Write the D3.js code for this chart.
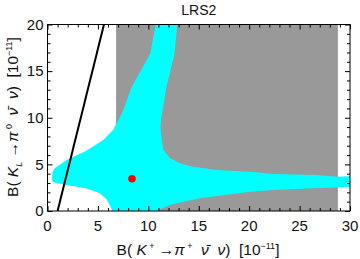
<!DOCTYPE html>
<html><head><meta charset="utf-8">
<script src="https://cdn.jsdelivr.net/npm/d3@7"></script>
<style>body{margin:0;background:#fff} svg{display:block} text{font-family:"Liberation Sans",Arial,sans-serif;fill:#111;white-space:pre}</style>
</head><body>
<svg id="c" width="360" height="259"></svg>
<script>
const xDomain = [0, 30];
const yDomain = [0, 20];
const xMajor = [0, 5, 10, 15, 20, 25, 30];
const yMajor = [0, 5, 10, 15, 20];
const xMinor = d3.range(0, 31, 1);
const yMinor = d3.range(0, 21, 1);
const grayBand = [6.8, 28.8];           // excluded x-range (full height)
const allowedRegion = [
  [10.76, 20.2], [10.2, 16.9], [8.35, 13.3], [7.5, 10.8], [7.2, 10.1], [6.5, 8.68],
  [5.5, 7.6], [3.9, 6.5], [1.9, 5.47], [0.74, 4.58], [0.5, 4.2], [0.45, 3.6],
  [0.5, 3.1], [1.9, 2.8], [3.9, 2.4], [5.2, 1.9], [5.9, 1.2], [6.4, 0.1],
  [6.45, -0.2], [11.0, -0.2], [11.0, 0.1], [12.15, 0.64], [13.5, 1.0], [15.1, 1.36],
  [16.8, 1.6], [20.1, 2.07], [22.4, 2.25], [26.4, 2.43], [29.0, 2.54], [30.3, 2.6],
  [30.3, 3.75], [28.7, 3.68], [26.7, 3.86], [22.4, 3.98], [20.1, 4.21], [16.8, 4.39],
  [14.46, 4.75], [13.14, 5.11], [12.15, 5.65], [11.49, 6.54], [11.33, 7.6], [11.2, 9.0],
  [11.3, 10.1], [11.8, 13.3], [12.6, 16.9], [12.88, 20.2]
];
const boundLine = [[1.0, 0], [5.6, 20]];
const smPoint = [8.38, 3.46];
const title = "LRS2";

const L = 47.5, R = 350, T = 24.5, B = 211;
const svg = d3.select("#c");
const x = d3.scaleLinear().domain(xDomain).range([L, R]);
const y = d3.scaleLinear().domain(yDomain).range([B, T]);

svg.append("defs").append("clipPath").attr("id", "pc")
  .append("rect").attr("x", L).attr("y", T).attr("width", R - L).attr("height", B - T);
const g = svg.append("g").attr("clip-path", "url(#pc)");

g.append("rect").attr("x", x(grayBand[0])).attr("y", y(yDomain[1]))
  .attr("width", x(grayBand[1]) - x(grayBand[0])).attr("height", y(yDomain[0]) - y(yDomain[1]))
  .attr("fill", "#999999");

g.append("path").datum(allowedRegion)
  .attr("d", d3.line().x(d => x(d[0])).y(d => y(d[1])).curve(d3.curveLinearClosed))
  .attr("fill", "#00ffff");

g.append("path").datum(boundLine)
  .attr("d", d3.line().x(d => x(d[0])).y(d => y(d[1])))
  .attr("stroke", "#000").attr("stroke-width", 2).attr("fill", "none");

g.append("circle").attr("cx", x(smPoint[0])).attr("cy", y(smPoint[1])).attr("r", 3.8).attr("fill", "#ff0000");

// frame
svg.append("rect").attr("x", L).attr("y", T).attr("width", R - L).attr("height", B - T)
  .attr("fill", "none").attr("stroke", "#000").attr("stroke-width", 1);

// ticks (inward, all sides)
function ticks(axisGen, tr, vals, len) {
  svg.append("g").attr("transform", tr)
    .call(axisGen.tickValues(vals).tickSize(len).tickFormat(""))
    .call(s => s.select(".domain").remove())
    .call(s => s.selectAll("line").attr("stroke", "#000"));
}
const minX = xMinor.filter(v => v % 5 !== 0), minY = yMinor.filter(v => v % 5 !== 0);
ticks(d3.axisTop(x), `translate(0,${B})`, xMinor.filter(v => v % 5 === 0), 5);
ticks(d3.axisTop(x), `translate(0,${B})`, minX, 3);
ticks(d3.axisBottom(x), `translate(0,${T})`, xMinor.filter(v => v % 5 === 0), 5);
ticks(d3.axisBottom(x), `translate(0,${T})`, minX, 3);
ticks(d3.axisRight(y), `translate(${L},0)`, yMinor.filter(v => v % 5 === 0), 5);
ticks(d3.axisRight(y), `translate(${L},0)`, minY, 3);
ticks(d3.axisLeft(y), `translate(${R},0)`, yMinor.filter(v => v % 5 === 0), 5);
ticks(d3.axisLeft(y), `translate(${R},0)`, minY, 3);

// tick labels
svg.append("g").selectAll("text").data(xMajor).join("text")
  .attr("x", d => x(d)).attr("y", 230.5).attr("text-anchor", "middle")
  .attr("font-size", 15).text(d => d);
svg.append("g").selectAll("text").data(yMajor).join("text")
  .attr("x", 43.5).attr("y", d => y(d) + 5.3).attr("text-anchor", "end")
  .attr("font-size", 15).text(d => d);

// title
svg.append("text").attr("x", (L + R) / 2).attr("y", 15).attr("text-anchor", "middle")
  .attr("font-size", 14).attr("fill", "#222").text(title);

function label(sel, parts) {
  parts.forEach(p => {
    const t = sel.append("tspan").text(p.t);
    if (p.i) t.attr("font-style", "italic");
    if (p.f) t.attr("font-size", p.f);
    if (p.s) t.attr("dy", p.s);
  });
}
const xl = svg.append("text").attr("x", 198).attr("y", 255).attr("text-anchor", "middle").attr("font-size", 15.5);
label(xl, [{t: "B( "}, {t: "K", i: 1}, {t: " +", f: 9, s: -6}, {t: " \u2192", s: 6}, {t: "\u03C0", i: 1},
  {t: " +", f: 9, s: -6}, {t: "  \u03BD\u0304  ", i: 1, s: 6}, {t: "\u03BD", i: 1}, {t: ")  [10"}, {t: "\u221211", f: 9, s: -6}, {t: "]", s: 6}]);

const yl = svg.append("text").attr("transform", `translate(18,117) rotate(-90)`).attr("text-anchor", "middle").attr("font-size", 15.5);
label(yl, [{t: "B( "}, {t: "K", i: 1}, {t: "L", i: 1, f: 9, s: 4}, {t: " \u2192", s: -4}, {t: "\u03C0", i: 1},
  {t: " 0", f: 9, s: -6}, {t: "  \u03BD\u0304  ", i: 1, s: 6}, {t: "\u03BD", i: 1}, {t: ")  [10"}, {t: "\u221211", f: 9, s: -6}, {t: "]", s: 6}]);
</script>
</body></html>
